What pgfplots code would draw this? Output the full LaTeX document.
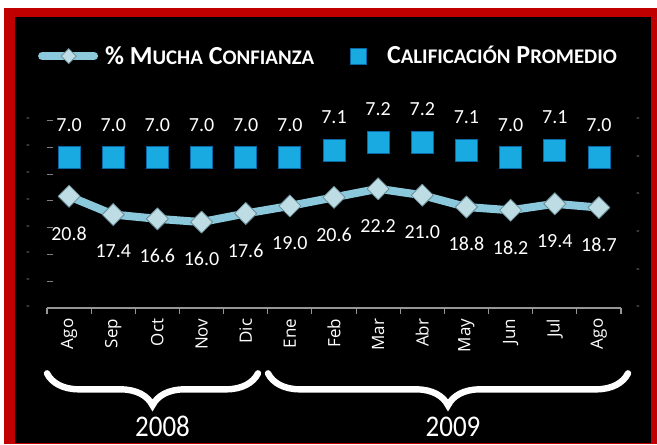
\documentclass[border=0pt]{standalone}
\usepackage{pgfplots}
\pgfplotsset{compat=1.18}
\usepackage{pgfplotstable}
\usepackage{fontspec}
\setmainfont{Carlito}
\newfontfamily\monthfont{Open Sans}
\usetikzlibrary{decorations.pathreplacing}

\definecolor{framered}{RGB}{192,0,0}
\definecolor{lineblue}{RGB}{140,200,220}
\definecolor{diafill}{RGB}{190,220,228}
\definecolor{diadraw}{RGB}{105,140,150}
\definecolor{sqfill}{RGB}{25,170,225}
\definecolor{sqdraw}{RGB}{10,105,165}
\definecolor{tickgray}{RGB}{150,150,150}

% fake small caps for the legend
\newcommand\smc[1]{{\fontsize{15.6pt}{18pt}\selectfont #1}}

\pgfplotstableread{
x pct
0 20.8
1 17.4
2 16.6
3 16.0
4 17.6
5 19.0
6 20.6
7 22.2
8 21.0
9 18.8
10 18.2
11 19.4
12 18.7
}\pctdata

\pgfplotstableread{
x cal
0 7.0
1 7.0
2 7.0
3 7.0
4 7.0
5 7.0
6 7.1
7 7.2
8 7.2
9 7.1
10 7.0
11 7.1
12 7.0
}\caldata

\pgfplotsset{
  base/.style={
    scale only axis, width=430.5pt, height=141pt,
    at={(35.25pt,-231pt)}, anchor=south west,
    xmin=-0.5, xmax=12.5, clip=false,
    major tick length=0pt,
    y axis line style={draw=none},
    yticklabel={-},
    yticklabel style={text=tickgray, anchor=center, font=\fontsize{8}{9}\selectfont},
  },
  lbl/.style={
    nodes near coords={\pgfmathprintnumber[fixed,fixed zerofill,precision=1,assume math mode=true]{\pgfplotspointmeta}},
    every node near coord/.append style={anchor=center, text=white,
      font=\fontsize{15}{18}\selectfont, yshift=#1},
  },
}

\begin{document}
\begin{tikzpicture}
\useasboundingbox (0,0) rectangle (492.75pt,-333pt);
\fill[white] (0,0) rectangle (492.75pt,-333pt);
\fill[framered] (3pt,-6pt) rectangle (492.75pt,-333pt);
\fill[black] (11.25pt,-12.75pt) rectangle (488.25pt,-332.25pt);

\begin{axis}[base,
  ymin=0, ymax=35, ytick={0,5,...,35},
  axis y line*=left, axis x line*=bottom,
  yticklabel style={xshift=-14.25pt},
  xtick={-0.5,0.5,...,12.5},
  x tick label as interval,
  xticklabels={Ago,Sep,Oct,Nov,Dic,Ene,Feb,Mar,Abr,May,Jun,Jul,Ago},
  xticklabel style={rotate=90, anchor=east, text=white,
    font=\monthfont\fontsize{12.75}{14}\selectfont},
  x axis line style={tickgray, line width=0.8pt},
  x tick style={tickgray, line width=0.8pt},
  xtick align=outside, major tick length=4.5pt,
  legend columns=4,
  legend style={draw=none, fill=none, inner sep=0pt, outer sep=0pt,
    anchor=west, at={(rel axis cs:-0.0155,1.34)},
    nodes={inner sep=0pt, text=white, font=\bfseries\fontsize{19.5}{22}\selectfont},
    /tikz/column sep=5.25pt},
]
\addlegendimage{legend image code/.code={
  \draw[lineblue, line width=6pt, line cap=round] (0pt,0pt) -- (39pt,0pt);
  \draw[diadraw, fill=diafill, line width=0.5pt, rotate around={45:(20pt,0pt)}]
    (16pt,-4pt) rectangle (24pt,4pt);}}
\addlegendentry{\% M\smc{UCHA} C\smc{ONFIANZA}}
\addlegendimage{legend image code/.code={
  \path (0pt,0pt) -- (43.75pt,0pt);
  \draw[sqdraw, fill=sqfill, line width=0.5pt] (22pt,-6pt) rectangle (34pt,6pt);}}
\addlegendentry{C\smc{ALIFICACIÓN} P\smc{ROMEDIO}}

\addplot[lineblue, line width=6pt, line join=round,
  mark=square*, mark size=5.85pt,
  mark options={rotate=45, fill=diafill, draw=diadraw, line width=0.6pt},
  lbl=-27.75pt, forget plot] table[x=x,y=pct] {\pctdata};
\end{axis}

\begin{axis}[base,
  ymin=5, ymax=7.5, ytick={5,5.5,...,7.5},
  axis y line*=right, axis x line=none,
  yticklabel style={xshift=12.75pt},
]
\addplot[only marks, mark=square*, mark size=8.25pt,
  mark options={fill=sqfill, draw=sqdraw, line width=0.6pt},
  lbl=24.75pt] table[x=x,y=cal] {\caldata};
\end{axis}

% year braces
\draw[white, line width=4.8pt, line cap=round,
  decorate, decoration={brace, amplitude=24pt}]
  (193.5pt,-280pt) -- (35.25pt,-280pt);
\draw[white, line width=4.8pt, line cap=round,
  decorate, decoration={brace, amplitude=24pt}]
  (471pt,-280pt) -- (201pt,-280pt);
\node[text=white, font=\fontsize{22.5}{26}\selectfont, xscale=0.9] at (121.9pt,-320pt) {2008};
\node[text=white, font=\fontsize{22.5}{26}\selectfont, xscale=0.9] at (339.75pt,-320pt) {2009};
\end{tikzpicture}
\end{document}
